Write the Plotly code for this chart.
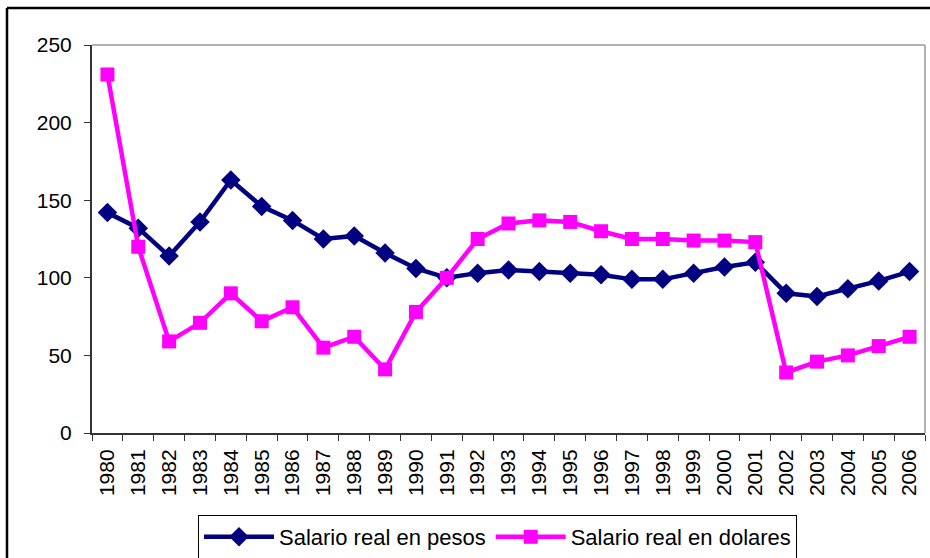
import plotly.graph_objects as go

years = [str(y) for y in range(1980, 2007)]
pesos = [142, 132, 114, 136, 163, 146, 137, 125, 127, 116, 106, 100, 103,
         105, 104, 103, 102, 99, 99, 103, 107, 110, 90, 88, 93, 98, 104]
dolares = [231, 120, 59, 71, 90, 72, 81, 55, 62, 41, 78, 100, 125,
           135, 137, 136, 130, 125, 125, 124, 124, 123, 39, 46, 50, 56, 62]

W, H = 930, 558
L, R, T, B = 92, 925, 45, 433
pw, ph = R - L, B - T

def px(x):
    return (x - L) / pw

def py(y):
    return (B - y) / ph

fig = go.Figure()
fig.add_trace(go.Scatter(
    x=years, y=pesos, name="Salario real en pesos", mode="lines+markers",
    line=dict(color="#000080", width=4.5),
    marker=dict(symbol="diamond", size=15, color="#000080"),
))
fig.add_trace(go.Scatter(
    x=years, y=dolares, name="Salario real en dolares", mode="lines+markers",
    line=dict(color="#FF00FF", width=4.5),
    marker=dict(symbol="square", size=14, color="#FF00FF"),
))

font = dict(family="Liberation Sans, Arial, sans-serif", size=20, color="black")
tickfont = dict(family="Liberation Sans, Arial, sans-serif", size=21, color="black")
legfont = dict(family="Liberation Sans, Arial, sans-serif", size=22, color="black")

fig.update_layout(
    width=W, height=H,
    margin=dict(l=L, r=W - R, t=T, b=H - B, pad=0, autoexpand=False),
    paper_bgcolor="white", plot_bgcolor="white",
    font=font,
    showlegend=True,
    legend=dict(
        orientation="h", x=px(198), y=py(515), xanchor="left", yanchor="top",
        bordercolor="black", borderwidth=1, font=legfont,
        itemwidth=70, tracegroupgap=0,
    ),
    xaxis=dict(
        type="category", range=[-0.5, 26.5], tickangle=-90,
        showgrid=False, zeroline=False, automargin=False,
        showline=True, linecolor="#333333", linewidth=2,
        ticks="outside", ticklen=6, tickcolor="#333333", tickwidth=1,
        tickson="boundaries", ticklabelstandoff=6,
        tickfont=tickfont,
    ),
    yaxis=dict(
        range=[0, 250], dtick=50, tick0=0,
        showgrid=False, zeroline=False, automargin=False,
        showline=True, linecolor="#333333", linewidth=2,
        ticks="outside", ticklen=6, tickcolor="#333333", tickwidth=1,
        ticklabelstandoff=8,
        tickfont=tickfont,
    ),
    shapes=[
        dict(type="line", xref="paper", yref="paper", x0=0, x1=1, y0=1, y1=1,
             line=dict(color="#999999", width=1.5), layer="below"),
        dict(type="line", xref="paper", yref="paper", x0=1, x1=1, y0=0, y1=1,
             line=dict(color="#999999", width=1.5), layer="below"),
        dict(type="line", xref="paper", yref="paper", x0=px(7), x1=px(7),
             y0=py(600), y1=py(8), line=dict(color="black", width=2.5)),
        dict(type="line", xref="paper", yref="paper", x0=px(7), x1=px(1000),
             y0=py(8), y1=py(8), line=dict(color="black", width=2.5)),
    ],
)

fig.write_html(
    "out.html",
    config={"displayModeBar": False},
    post_script="document.body.style.margin='0';document.body.style.overflow='hidden';",
)
